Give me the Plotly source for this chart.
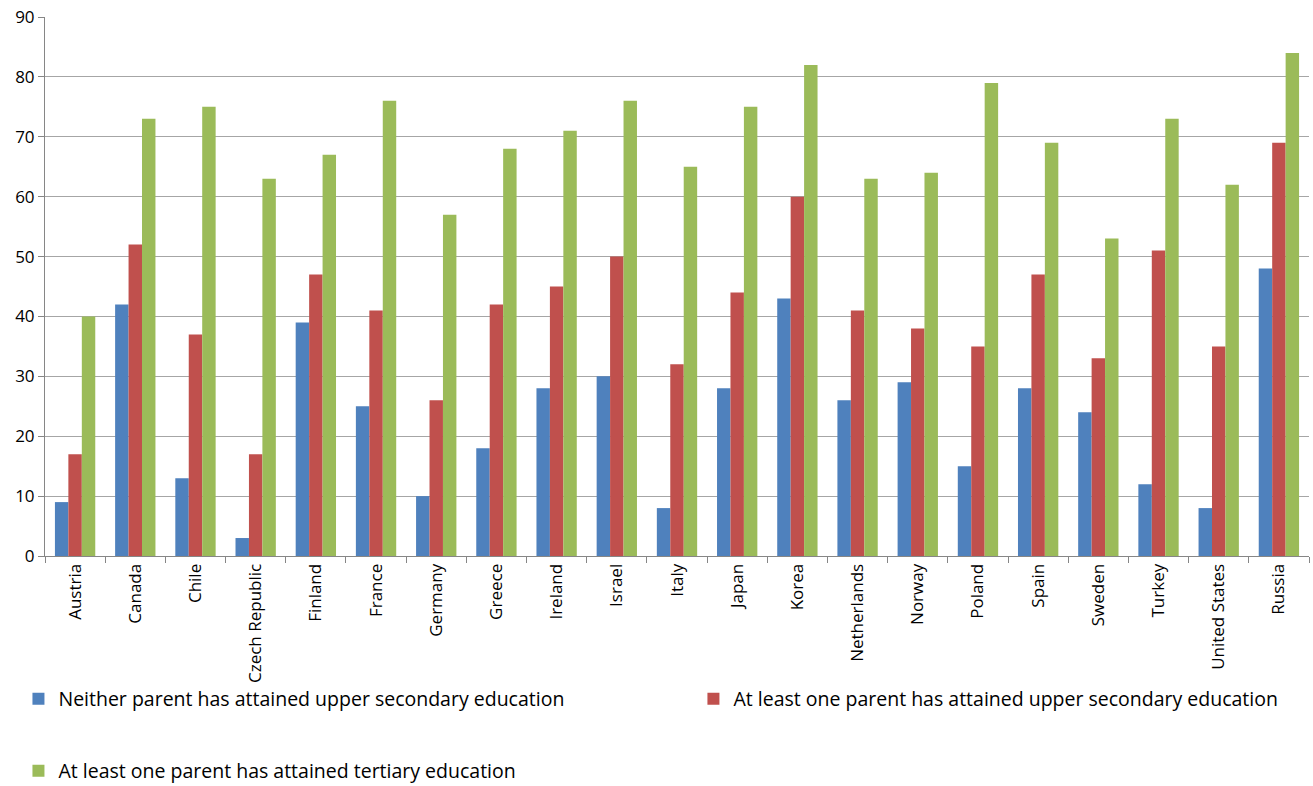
import plotly.graph_objects as go

countries = ["Austria", "Canada", "Chile", "Czech Republic", "Finland", "France", "Germany",
             "Greece", "Ireland", "Israel", "Italy", "Japan", "Korea", "Netherlands", "Norway",
             "Poland", "Spain", "Sweden", "Turkey", "United States", "Russia"]
neither = [9, 42, 13, 3, 39, 25, 10, 18, 28, 30, 8, 28, 43, 26, 29, 15, 28, 24, 12, 8, 48]
upper_secondary = [17, 52, 37, 17, 47, 41, 26, 42, 45, 50, 32, 44, 60, 41, 38, 35, 47, 33, 51, 35, 69]
tertiary = [40, 73, 75, 63, 67, 76, 57, 68, 71, 76, 65, 75, 82, 63, 64, 79, 69, 53, 73, 62, 84]

names = ["Neither parent has attained upper secondary education",
         "At least one parent has attained upper secondary education",
         "At least one parent has attained tertiary education"]
colors = ["#4F81BD", "#C0504D", "#9BBB59"]
series = [neither, upper_secondary, tertiary]
legends = ["legend", "legend2", "legend3"]

FONT = "Open Sans"
LEG_FONT = dict(family=FONT, size=19.5, color="#000000")

fig = go.Figure()
for nm, col, vals, lg in zip(names, colors, series, legends):
    fig.add_trace(go.Bar(x=countries, y=vals, name=nm, marker_color=col,
                         marker_line_width=0, legend=lg))

def leg(x, y):
    return dict(orientation="h", x=x, y=y, xanchor="left", yanchor="middle",
                font=LEG_FONT, itemwidth=30, bgcolor="rgba(0,0,0,0)")

fig.update_layout(
    width=1313, height=786,
    margin=dict(l=45, r=4, t=17, b=230, autoexpand=False),
    paper_bgcolor="white", plot_bgcolor="white",
    barmode="group", bargap=0.33, bargroupgap=0,
    font=dict(family=FONT, size=15, color="#000000"),
    showlegend=True,
    legend=leg(-0.021, (556 - 699) / 539),
    legend2=leg(0.513, (556 - 699) / 539),
    legend3=leg(-0.021, (556 - 771) / 539),
)
fig.update_xaxes(showline=True, linecolor="#868686", linewidth=1,
                 ticks="outside", tickson="boundaries", ticklen=6, tickcolor="#868686",
                 tickangle=-90, tickfont=dict(size=17), showgrid=False)
fig.update_yaxes(range=[0, 90], dtick=10, showline=True, linecolor="#868686", linewidth=1,
                 ticks="outside", ticklen=6, tickcolor="#868686",
                 showgrid=True, gridcolor="#A6A6A6", gridwidth=1,
                 tickfont=dict(size=17), zeroline=False)

fig.write_html("out.html")
